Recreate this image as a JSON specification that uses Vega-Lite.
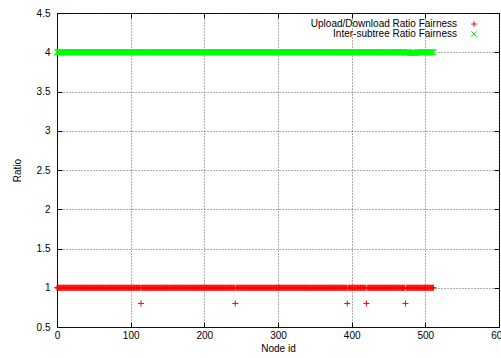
{
"$schema": "https://vega.github.io/schema/vega-lite/v6.json",
"width": 442, "height": 314,
"autosize": {"type": "none"},
"padding": {"left": 57, "top": 13, "right": 2, "bottom": 31},
"background": "white",
"config": {
  "font": "Liberation Sans",
  "view": {"stroke": "black", "strokeWidth": 1},
  "axis": {"domain": false, "tickColor": "black", "tickSize": -5, "labelFontSize": 10, "labelColor": "black", "titleFontSize": 10, "titleFontWeight": "normal", "titleColor": "black", "gridColor": "#333", "gridDash": [1, 2], "gridWidth": 0.8, "labelFlush": false, "labelOverlap": false}
},
"data": {"values": [
{"n":0,"u":1,"g":4},{"n":1,"u":1,"g":4},{"n":2,"u":1,"g":4},{"n":3,"u":1,"g":4},{"n":4,"u":1,"g":4},{"n":5,"u":1,"g":4},{"n":6,"u":1,"g":4},{"n":7,"u":1,"g":4},
{"n":8,"u":1,"g":4},{"n":9,"u":1,"g":4},{"n":10,"u":1,"g":4},{"n":11,"u":1,"g":4},{"n":12,"u":1,"g":4},{"n":13,"u":1,"g":4},{"n":14,"u":1,"g":4},{"n":15,"u":1,"g":4},
{"n":16,"u":1,"g":4},{"n":17,"u":1,"g":4},{"n":18,"u":1,"g":4},{"n":19,"u":1,"g":4},{"n":20,"u":1,"g":4},{"n":21,"u":1,"g":4},{"n":22,"u":1,"g":4},{"n":23,"u":1,"g":4},
{"n":24,"u":1,"g":4},{"n":25,"u":1,"g":4},{"n":26,"u":1,"g":4},{"n":27,"u":1,"g":4},{"n":28,"u":1,"g":4},{"n":29,"u":1,"g":4},{"n":30,"u":1,"g":4},{"n":31,"u":1,"g":4},
{"n":32,"u":1,"g":4},{"n":33,"u":1,"g":4},{"n":34,"u":1,"g":4},{"n":35,"u":1,"g":4},{"n":36,"u":1,"g":4},{"n":37,"u":1,"g":4},{"n":38,"u":1,"g":4},{"n":39,"u":1,"g":4},
{"n":40,"u":1,"g":4},{"n":41,"u":1,"g":4},{"n":42,"u":1,"g":4},{"n":43,"u":1,"g":4},{"n":44,"u":1,"g":4},{"n":45,"u":1,"g":4},{"n":46,"u":1,"g":4},{"n":47,"u":1,"g":4},
{"n":48,"u":1,"g":4},{"n":49,"u":1,"g":4},{"n":50,"u":1,"g":4},{"n":51,"u":1,"g":4},{"n":52,"u":1,"g":4},{"n":53,"u":1,"g":4},{"n":54,"u":1,"g":4},{"n":55,"u":1,"g":4},
{"n":56,"u":1,"g":4},{"n":57,"u":1,"g":4},{"n":58,"u":1,"g":4},{"n":59,"u":1,"g":4},{"n":60,"u":1,"g":4},{"n":61,"u":1,"g":4},{"n":62,"u":1,"g":4},{"n":63,"u":1,"g":4},
{"n":64,"u":1,"g":4},{"n":65,"u":1,"g":4},{"n":66,"u":1,"g":4},{"n":67,"u":1,"g":4},{"n":68,"u":1,"g":4},{"n":69,"u":1,"g":4},{"n":70,"u":1,"g":4},{"n":71,"u":1,"g":4},
{"n":72,"u":1,"g":4},{"n":73,"u":1,"g":4},{"n":74,"u":1,"g":4},{"n":75,"u":1,"g":4},{"n":76,"u":1,"g":4},{"n":77,"u":1,"g":4},{"n":78,"u":1,"g":4},{"n":79,"u":1,"g":4},
{"n":80,"u":1,"g":4},{"n":81,"u":1,"g":4},{"n":82,"u":1,"g":4},{"n":83,"u":1,"g":4},{"n":84,"u":1,"g":4},{"n":85,"u":1,"g":4},{"n":86,"u":1,"g":4},{"n":87,"u":1,"g":4},
{"n":88,"u":1,"g":4},{"n":89,"u":1,"g":4},{"n":90,"u":1,"g":4},{"n":91,"u":1,"g":4},{"n":92,"u":1,"g":4},{"n":93,"u":1,"g":4},{"n":94,"u":1,"g":4},{"n":95,"u":1,"g":4},
{"n":96,"u":1,"g":4},{"n":97,"u":1,"g":4},{"n":98,"u":1,"g":4},{"n":99,"u":1,"g":4},{"n":100,"u":1,"g":4},{"n":101,"u":1,"g":4},{"n":102,"u":1,"g":4},{"n":103,"u":1,"g":4},
{"n":104,"u":1,"g":4},{"n":105,"u":1,"g":4},{"n":106,"u":1,"g":4},{"n":107,"u":1,"g":4},{"n":108,"u":1,"g":4},{"n":109,"u":1,"g":4},{"n":110,"u":1,"g":4},{"n":111,"u":1,"g":4},
{"n":112,"u":1,"g":4},{"n":113,"u":1,"g":4},{"n":114,"u":0.8,"g":4},{"n":115,"u":1,"g":4},{"n":116,"u":1,"g":4},{"n":117,"u":1,"g":4},{"n":118,"u":1,"g":4},{"n":119,"u":1,"g":4},
{"n":120,"u":1,"g":4},{"n":121,"u":1,"g":4},{"n":122,"u":1,"g":4},{"n":123,"u":1,"g":4},{"n":124,"u":1,"g":4},{"n":125,"u":1,"g":4},{"n":126,"u":1,"g":4},{"n":127,"u":1,"g":4},
{"n":128,"u":1,"g":4},{"n":129,"u":1,"g":4},{"n":130,"u":1,"g":4},{"n":131,"u":1,"g":4},{"n":132,"u":1,"g":4},{"n":133,"u":1,"g":4},{"n":134,"u":1,"g":4},{"n":135,"u":1,"g":4},
{"n":136,"u":1,"g":4},{"n":137,"u":1,"g":4},{"n":138,"u":1,"g":4},{"n":139,"u":1,"g":4},{"n":140,"u":1,"g":4},{"n":141,"u":1,"g":4},{"n":142,"u":1,"g":4},{"n":143,"u":1,"g":4},
{"n":144,"u":1,"g":4},{"n":145,"u":1,"g":4},{"n":146,"u":1,"g":4},{"n":147,"u":1,"g":4},{"n":148,"u":1,"g":4},{"n":149,"u":1,"g":4},{"n":150,"u":1,"g":4},{"n":151,"u":1,"g":4},
{"n":152,"u":1,"g":4},{"n":153,"u":1,"g":4},{"n":154,"u":1,"g":4},{"n":155,"u":1,"g":4},{"n":156,"u":1,"g":4},{"n":157,"u":1,"g":4},{"n":158,"u":1,"g":4},{"n":159,"u":1,"g":4},
{"n":160,"u":1,"g":4},{"n":161,"u":1,"g":4},{"n":162,"u":1,"g":4},{"n":163,"u":1,"g":4},{"n":164,"u":1,"g":4},{"n":165,"u":1,"g":4},{"n":166,"u":1,"g":4},{"n":167,"u":1,"g":4},
{"n":168,"u":1,"g":4},{"n":169,"u":1,"g":4},{"n":170,"u":1,"g":4},{"n":171,"u":1,"g":4},{"n":172,"u":1,"g":4},{"n":173,"u":1,"g":4},{"n":174,"u":1,"g":4},{"n":175,"u":1,"g":4},
{"n":176,"u":1,"g":4},{"n":177,"u":1,"g":4},{"n":178,"u":1,"g":4},{"n":179,"u":1,"g":4},{"n":180,"u":1,"g":4},{"n":181,"u":1,"g":4},{"n":182,"u":1,"g":4},{"n":183,"u":1,"g":4},
{"n":184,"u":1,"g":4},{"n":185,"u":1,"g":4},{"n":186,"u":1,"g":4},{"n":187,"u":1,"g":4},{"n":188,"u":1,"g":4},{"n":189,"u":1,"g":4},{"n":190,"u":1,"g":4},{"n":191,"u":1,"g":4},
{"n":192,"u":1,"g":4},{"n":193,"u":1,"g":4},{"n":194,"u":1,"g":4},{"n":195,"u":1,"g":4},{"n":196,"u":1,"g":4},{"n":197,"u":1,"g":4},{"n":198,"u":1,"g":4},{"n":199,"u":1,"g":4},
{"n":200,"u":1,"g":4},{"n":201,"u":1,"g":4},{"n":202,"u":1,"g":4},{"n":203,"u":1,"g":4},{"n":204,"u":1,"g":4},{"n":205,"u":1,"g":4},{"n":206,"u":1,"g":4},{"n":207,"u":1,"g":4},
{"n":208,"u":1,"g":4},{"n":209,"u":1,"g":4},{"n":210,"u":1,"g":4},{"n":211,"u":1,"g":4},{"n":212,"u":1,"g":4},{"n":213,"u":1,"g":4},{"n":214,"u":1,"g":4},{"n":215,"u":1,"g":4},
{"n":216,"u":1,"g":4},{"n":217,"u":1,"g":4},{"n":218,"u":1,"g":4},{"n":219,"u":1,"g":4},{"n":220,"u":1,"g":4},{"n":221,"u":1,"g":4},{"n":222,"u":1,"g":4},{"n":223,"u":1,"g":4},
{"n":224,"u":1,"g":4},{"n":225,"u":1,"g":4},{"n":226,"u":1,"g":4},{"n":227,"u":1,"g":4},{"n":228,"u":1,"g":4},{"n":229,"u":1,"g":4},{"n":230,"u":1,"g":4},{"n":231,"u":1,"g":4},
{"n":232,"u":1,"g":4},{"n":233,"u":1,"g":4},{"n":234,"u":1,"g":4},{"n":235,"u":1,"g":4},{"n":236,"u":1,"g":4},{"n":237,"u":1,"g":4},{"n":238,"u":1,"g":4},{"n":239,"u":1,"g":4},
{"n":240,"u":1,"g":4},{"n":241,"u":1,"g":4},{"n":242,"u":0.8,"g":4},{"n":243,"u":1,"g":4},{"n":244,"u":1,"g":4},{"n":245,"u":1,"g":4},{"n":246,"u":1,"g":4},{"n":247,"u":1,"g":4},
{"n":248,"u":1,"g":4},{"n":249,"u":1,"g":4},{"n":250,"u":1,"g":4},{"n":251,"u":1,"g":4},{"n":252,"u":1,"g":4},{"n":253,"u":1,"g":4},{"n":254,"u":1,"g":4},{"n":255,"u":1,"g":4},
{"n":256,"u":1,"g":4},{"n":257,"u":1,"g":4},{"n":258,"u":1,"g":4},{"n":259,"u":1,"g":4},{"n":260,"u":1,"g":4},{"n":261,"u":1,"g":4},{"n":262,"u":1,"g":4},{"n":263,"u":1,"g":4},
{"n":264,"u":1,"g":4},{"n":265,"u":1,"g":4},{"n":266,"u":1,"g":4},{"n":267,"u":1,"g":4},{"n":268,"u":1,"g":4},{"n":269,"u":1,"g":4},{"n":270,"u":1,"g":4},{"n":271,"u":1,"g":4},
{"n":272,"u":1,"g":4},{"n":273,"u":1,"g":4},{"n":274,"u":1,"g":4},{"n":275,"u":1,"g":4},{"n":276,"u":1,"g":4},{"n":277,"u":1,"g":4},{"n":278,"u":1,"g":4},{"n":279,"u":1,"g":4},
{"n":280,"u":1,"g":4},{"n":281,"u":1,"g":4},{"n":282,"u":1,"g":4},{"n":283,"u":1,"g":4},{"n":284,"u":1,"g":4},{"n":285,"u":1,"g":4},{"n":286,"u":1,"g":4},{"n":287,"u":1,"g":4},
{"n":288,"u":1,"g":4},{"n":289,"u":1,"g":4},{"n":290,"u":1,"g":4},{"n":291,"u":1,"g":4},{"n":292,"u":1,"g":4},{"n":293,"u":1,"g":4},{"n":294,"u":1,"g":4},{"n":295,"u":1,"g":4},
{"n":296,"u":1,"g":4},{"n":297,"u":1,"g":4},{"n":298,"u":1,"g":4},{"n":299,"u":1,"g":4},{"n":300,"u":1,"g":4},{"n":301,"u":1,"g":4},{"n":302,"u":1,"g":4},{"n":303,"u":1,"g":4},
{"n":304,"u":1,"g":4},{"n":305,"u":1,"g":4},{"n":306,"u":1,"g":4},{"n":307,"u":1,"g":4},{"n":308,"u":1,"g":4},{"n":309,"u":1,"g":4},{"n":310,"u":1,"g":4},{"n":311,"u":1,"g":4},
{"n":312,"u":1,"g":4},{"n":313,"u":1,"g":4},{"n":314,"u":1,"g":4},{"n":315,"u":1,"g":4},{"n":316,"u":1,"g":4},{"n":317,"u":1,"g":4},{"n":318,"u":1,"g":4},{"n":319,"u":1,"g":4},
{"n":320,"u":1,"g":4},{"n":321,"u":1,"g":4},{"n":322,"u":1,"g":4},{"n":323,"u":1,"g":4},{"n":324,"u":1,"g":4},{"n":325,"u":1,"g":4},{"n":326,"u":1,"g":4},{"n":327,"u":1,"g":4},
{"n":328,"u":1,"g":4},{"n":329,"u":1,"g":4},{"n":330,"u":1,"g":4},{"n":331,"u":1,"g":4},{"n":332,"u":1,"g":4},{"n":333,"u":1,"g":4},{"n":334,"u":1,"g":4},{"n":335,"u":1,"g":4},
{"n":336,"u":1,"g":4},{"n":337,"u":1,"g":4},{"n":338,"u":1,"g":4},{"n":339,"u":1,"g":4},{"n":340,"u":1,"g":4},{"n":341,"u":1,"g":4},{"n":342,"u":1,"g":4},{"n":343,"u":1,"g":4},
{"n":344,"u":1,"g":4},{"n":345,"u":1,"g":4},{"n":346,"u":1,"g":4},{"n":347,"u":1,"g":4},{"n":348,"u":1,"g":4},{"n":349,"u":1,"g":4},{"n":350,"u":1,"g":4},{"n":351,"u":1,"g":4},
{"n":352,"u":1,"g":4},{"n":353,"u":1,"g":4},{"n":354,"u":1,"g":4},{"n":355,"u":1,"g":4},{"n":356,"u":1,"g":4},{"n":357,"u":1,"g":4},{"n":358,"u":1,"g":4},{"n":359,"u":1,"g":4},
{"n":360,"u":1,"g":4},{"n":361,"u":1,"g":4},{"n":362,"u":1,"g":4},{"n":363,"u":1,"g":4},{"n":364,"u":1,"g":4},{"n":365,"u":1,"g":4},{"n":366,"u":1,"g":4},{"n":367,"u":1,"g":4},
{"n":368,"u":1,"g":4},{"n":369,"u":1,"g":4},{"n":370,"u":1,"g":4},{"n":371,"u":1,"g":4},{"n":372,"u":1,"g":4},{"n":373,"u":1,"g":4},{"n":374,"u":1,"g":4},{"n":375,"u":1,"g":4},
{"n":376,"u":1,"g":4},{"n":377,"u":1,"g":4},{"n":378,"u":1,"g":4},{"n":379,"u":1,"g":4},{"n":380,"u":1,"g":4},{"n":381,"u":1,"g":4},{"n":382,"u":1,"g":4},{"n":383,"u":1,"g":4},
{"n":384,"u":1,"g":4},{"n":385,"u":1,"g":4},{"n":386,"u":1,"g":4},{"n":387,"u":1,"g":4},{"n":388,"u":1,"g":4},{"n":389,"u":1,"g":4},{"n":390,"u":1,"g":4},{"n":391,"u":1,"g":4},
{"n":392,"u":1,"g":4},{"n":393,"u":1,"g":4},{"n":394,"u":0.8,"g":4},{"n":395,"u":1,"g":4},{"n":396,"u":1,"g":4},{"n":397,"u":1,"g":4},{"n":398,"u":1,"g":4},{"n":399,"u":1,"g":4},
{"n":400,"u":1,"g":4},{"n":401,"u":1,"g":4},{"n":402,"u":1,"g":4},{"n":403,"u":1,"g":4},{"n":404,"u":1,"g":4},{"n":405,"u":1,"g":4},{"n":406,"u":1,"g":4},{"n":407,"u":1,"g":4},
{"n":408,"u":1,"g":4},{"n":409,"u":1,"g":4},{"n":410,"u":1,"g":4},{"n":411,"u":1,"g":4},{"n":412,"u":1,"g":4},{"n":413,"u":1,"g":4},{"n":414,"u":1,"g":4},{"n":415,"u":1,"g":4},
{"n":416,"u":1,"g":4},{"n":417,"u":1,"g":4},{"n":418,"u":1,"g":4},{"n":419,"u":1,"g":4},{"n":420,"u":0.8,"g":4},{"n":421,"u":1,"g":4},{"n":422,"u":1,"g":4},{"n":423,"u":1,"g":4},
{"n":424,"u":1,"g":4},{"n":425,"u":1,"g":4},{"n":426,"u":1,"g":4},{"n":427,"u":1,"g":4},{"n":428,"u":1,"g":4},{"n":429,"u":1,"g":4},{"n":430,"u":1,"g":4},{"n":431,"u":1,"g":4},
{"n":432,"u":1,"g":4},{"n":433,"u":1,"g":4},{"n":434,"u":1,"g":4},{"n":435,"u":1,"g":4},{"n":436,"u":1,"g":4},{"n":437,"u":1,"g":4},{"n":438,"u":1,"g":4},{"n":439,"u":1,"g":4},
{"n":440,"u":1,"g":4},{"n":441,"u":1,"g":4},{"n":442,"u":1,"g":4},{"n":443,"u":1,"g":4},{"n":444,"u":1,"g":4},{"n":445,"u":1,"g":4},{"n":446,"u":1,"g":4},{"n":447,"u":1,"g":4},
{"n":448,"u":1,"g":4},{"n":449,"u":1,"g":4},{"n":450,"u":1,"g":4},{"n":451,"u":1,"g":4},{"n":452,"u":1,"g":4},{"n":453,"u":1,"g":4},{"n":454,"u":1,"g":4},{"n":455,"u":1,"g":4},
{"n":456,"u":1,"g":4},{"n":457,"u":1,"g":4},{"n":458,"u":1,"g":4},{"n":459,"u":1,"g":4},{"n":460,"u":1,"g":4},{"n":461,"u":1,"g":4},{"n":462,"u":1,"g":4},{"n":463,"u":1,"g":4},
{"n":464,"u":1,"g":4},{"n":465,"u":1,"g":4},{"n":466,"u":1,"g":4},{"n":467,"u":1,"g":4},{"n":468,"u":1,"g":4},{"n":469,"u":1,"g":4},{"n":470,"u":1,"g":4},{"n":471,"u":1,"g":4},
{"n":472,"u":1,"g":4},{"n":473,"u":0.8,"g":4},{"n":474,"u":1,"g":4},{"n":475,"u":1,"g":4},{"n":476,"u":1,"g":4},{"n":477,"u":1,"g":4},{"n":478,"u":1,"g":4},{"n":479,"u":1,"g":3.99},
{"n":480,"u":1,"g":3.99},{"n":481,"u":1,"g":3.99},{"n":482,"u":1,"g":3.99},{"n":483,"u":1,"g":3.99},{"n":484,"u":1,"g":3.99},{"n":485,"u":1,"g":3.99},{"n":486,"u":1,"g":3.99},
{"n":487,"u":1,"g":3.99},{"n":488,"u":1,"g":3.99},{"n":489,"u":1,"g":4},{"n":490,"u":1,"g":4},{"n":491,"u":1,"g":4},{"n":492,"u":1,"g":4},{"n":493,"u":1,"g":4},{"n":494,"u":1,"g":4},
{"n":495,"u":1,"g":4},{"n":496,"u":1,"g":4},{"n":497,"u":1,"g":4},{"n":498,"u":1,"g":4},{"n":499,"u":1,"g":4},{"n":500,"u":1,"g":4},{"n":501,"u":1,"g":4},{"n":502,"u":1,"g":4},
{"n":503,"u":1,"g":4},{"n":504,"u":1,"g":4},{"n":505,"u":1,"g":4},{"n":506,"u":1,"g":4},{"n":507,"u":1,"g":4},{"n":508,"u":1,"g":4},{"n":509,"u":1,"g":4},{"n":510,"u":1,"g":4},
{"n":511,"u":1,"g":4}
]},
"transform": [{"fold": ["u", "g"], "as": ["s", "v"]}],
"layer": [
  {
    "mark": {"type": "point", "filled": false, "strokeWidth": 1, "size": 36, "opacity": 1},
    "encoding": {
      "x": {"field": "n", "type": "quantitative", "scale": {"domain": [0, 600], "nice": false, "zero": false},
            "axis": {"values": [0, 100, 200, 300, 400, 500, 600], "title": "Node id", "grid": true, "labelPadding": 8, "titlePadding": 3}},
      "y": {"field": "v", "type": "quantitative", "scale": {"domain": [0.5, 4.5], "nice": false, "zero": false},
            "axis": {"values": [0.5, 1, 1.5, 2, 2.5, 3, 3.5, 4, 4.5], "format": "~g", "title": "Ratio", "grid": true, "labelPadding": 12, "titlePadding": 14}},
      "color": {"field": "s", "type": "nominal", "scale": {"domain": ["u", "g"], "range": ["#ff0000", "#00ff00"]},
            "legend": {"title": null, "orient": "none", "legendX": 412, "legendY": 6, "direction": "vertical", "padding": 0, "rowPadding": 0, "labelFontSize": 10, "labelColor": "black", "labelAlign": "right", "labelOffset": -22, "symbolSize": 30, "symbolStrokeWidth": 1, "labelExpr": "datum.value == 'u' ? 'Upload/Download Ratio Fairness' : 'Inter-subtree Ratio Fairness'"}},
      "shape": {"field": "s", "type": "nominal", "scale": {"domain": ["u", "g"], "range": ["M-1,0H1M0,-1V1", "M-1,-1L1,1M-1,1L1,-1"]}, "legend": null}
    }
  },
  {
    "mark": {"type": "point", "opacity": 0},
    "encoding": {
      "x": {"field": "n", "type": "quantitative", "axis": {"orient": "top", "values": [0, 100, 200, 300, 400, 500, 600], "labels": false, "title": null, "grid": false}},
      "y": {"field": "v", "type": "quantitative", "axis": {"orient": "right", "values": [0.5, 1, 1.5, 2, 2.5, 3, 3.5, 4, 4.5], "labels": false, "title": null, "grid": false}}
    }
  }
],
"resolve": {"axis": {"x": "independent", "y": "independent"}}
}
